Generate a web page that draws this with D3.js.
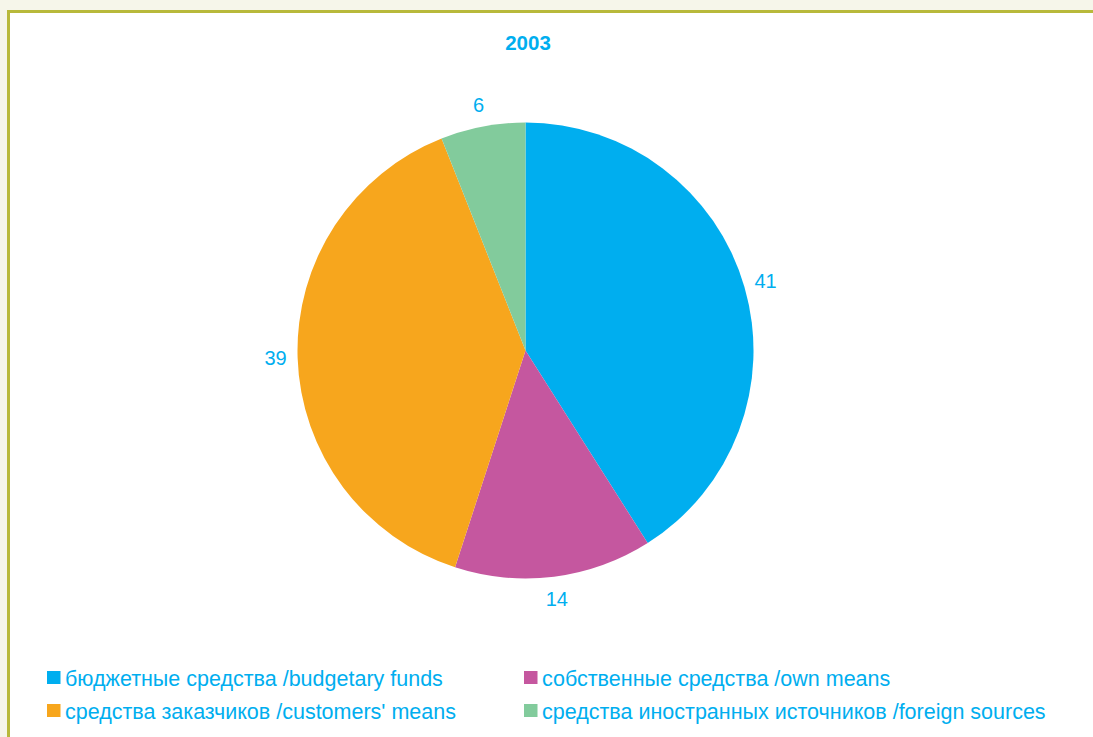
<!DOCTYPE html>
<html><head><meta charset="utf-8">
<script src="https://cdn.jsdelivr.net/npm/d3@7"></script>
<style>html,body{margin:0;padding:0;background:#f6f6ea;}svg{display:block;}</style>
</head><body>
<script>
const title = "2003";
const categories = ["бюджетные средства /budgetary funds","собственные средства /own means","средства заказчиков /customers' means","средства иностранных источников /foreign sources"];
const values = [41, 14, 39, 6];
const colors = ["#00aeef","#c5579f","#f7a61d","#82cb9c"];
const legendOrder = [0, 1, 2, 3];

const W = 1093, H = 737;
const svg = d3.select("body").append("svg").attr("width", W).attr("height", H);
svg.append("rect").attr("x",0).attr("y",0).attr("width",W).attr("height",H).attr("fill","#f6f6ea");
svg.append("rect").attr("x",8.5).attr("y",11.5).attr("width",W+20).attr("height",H+20)
  .attr("fill","#ffffff").attr("stroke","#b8b93b").attr("stroke-width",3);

const font = "'Liberation Sans', Arial, sans-serif";
const txtColor = "#00aeef";

svg.append("text").attr("x",528).attr("y",50).attr("text-anchor","middle")
  .attr("font-family",font).attr("font-weight","bold").attr("font-size",20.5).attr("fill",txtColor).text(title);

const cx = 525.5, cy = 350.5, r = 228;
const pie = d3.pie().sort(null).value(d => d)(values);
const arc = d3.arc().innerRadius(0).outerRadius(r);
const labelArc = d3.arc().innerRadius(250).outerRadius(250);
const g = svg.append("g").attr("transform",`translate(${cx},${cy})`);
g.selectAll("path").data(pie).join("path").attr("d",arc).attr("fill",(d,i)=>colors[i]);
g.selectAll("text").data(pie).join("text")
  .attr("transform",d=>`translate(${labelArc.centroid(d)})`)
  .attr("text-anchor","middle").attr("dy","0.35em")
  .attr("font-family",font).attr("font-size",20).attr("fill",txtColor)
  .text(d=>d.data);

const legX = [47, 524], legY = [678, 711];
legendOrder.forEach((ci, k) => {
  const col = k % 2, row = Math.floor(k / 2);
  const lg = svg.append("g").attr("transform",`translate(${legX[col]},${legY[row]})`);
  lg.append("rect").attr("x",0).attr("y",-7).attr("width",13.5).attr("height",13).attr("fill",colors[ci]);
  lg.append("text").attr("x",18).attr("y",0).attr("dy","0.35em")
    .attr("font-family",font).attr("font-size",21.5).attr("fill",txtColor).text(categories[ci]);
});
</script>
</body></html>
